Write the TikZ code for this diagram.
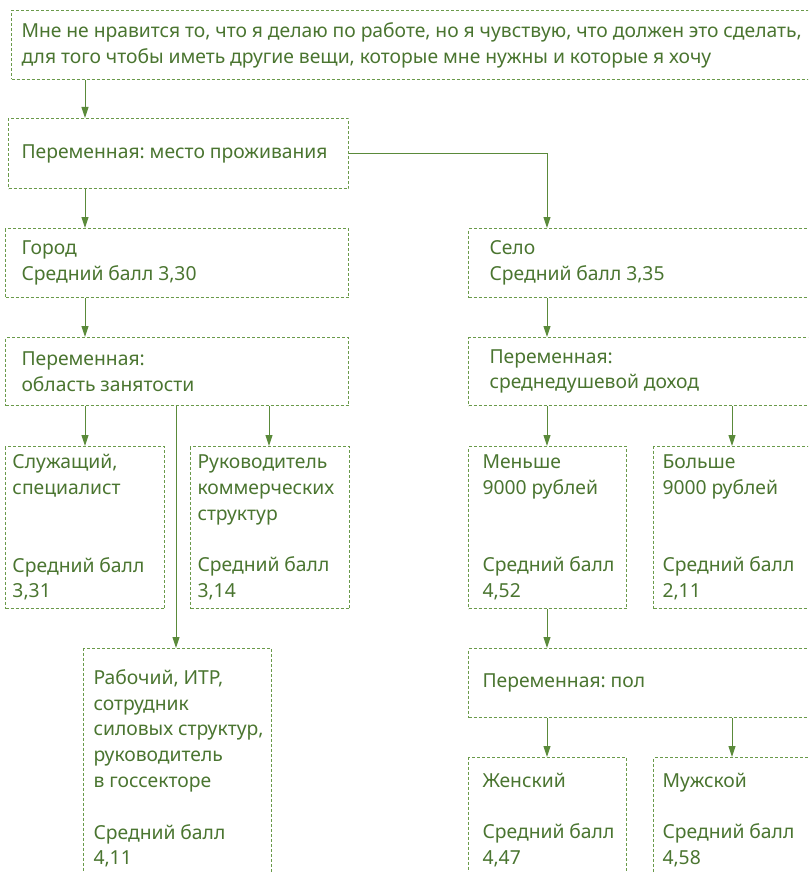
\documentclass[tikz,border=0pt]{standalone}
\usepackage{fontspec}
\setmainfont{Noto Sans}
\usetikzlibrary{arrows.meta}
\definecolor{gline}{HTML}{6A9A4A}
\definecolor{gtext}{HTML}{4A7530}
\definecolor{garr}{HTML}{5A8A3A}
\newcommand\ws{\nobreak\hskip4.9pt\relax}
\tikzset{
  box/.style={draw=gline, line width=1pt, dash pattern=on 3pt off 2pt, anchor=north west,
    align=left, inner ysep=0pt, text=gtext, font=\fontsize{19.3}{25.8}\selectfont},
  conn/.style={draw=garr, line width=1pt, -{Triangle[length=11pt,width=7pt]}}
}
\begin{document}
\begin{tikzpicture}[x=1pt,y=-1pt]
\useasboundingbox (0,0) rectangle (808,872);
\clip (0,0) rectangle (808,872);
\coordinate (cA) at (85,0);
\coordinate (cB) at (176,0);
\coordinate (cC) at (269,0);
\coordinate (cS) at (547,0);
\coordinate (cT) at (732,0);

\node[box, inner xsep=10pt, text width=784pt, minimum height=69pt] (top) at (11,10)
 {Мне\ws не\ws нравится\ws то,\ws что\ws я\ws делаю\ws по\ws работе,\ws но\ws я\ws чувствую,\ws что\ws должен\ws это\ws сделать,\\
  для\ws того\ws чтобы\ws иметь\ws другие\ws вещи,\ws которые\ws мне\ws нужны\ws и\ws которые\ws я\ws хочу};
\node[box, inner xsep=13pt, text width=314pt, minimum height=70pt] (place) at (8,118)
 {Переменная:\ws место\ws проживания};
\node[box, inner xsep=16pt, text width=311pt, minimum height=69pt] (gorod) at (5,228)
 {Город\\Средний\ws балл\ws 3,30};
\node[box, inner xsep=16pt, text width=311pt, minimum height=68pt] (oblast) at (5,337)
 {Переменная:\\область\ws занятости};
\node[box, inner xsep=21pt, text width=305pt, minimum height=69pt] (selo) at (468,228)
 {Село\\Средний\ws балл\ws 3,35};
\node[box, inner xsep=21pt, text width=305pt, minimum height=68pt] (dohod) at (468,337)
 {Переменная:\\среднедушевой\ws доход};
\node[box, inner xsep=7pt, text width=145pt, minimum height=162pt] (sluzh) at (5,446)
 {Служащий,\\специалист\\[51.6pt]Средний\ws балл\\3,31};
\node[box, inner xsep=7pt, text width=145pt, minimum height=162pt] (ruk) at (190,446)
 {Руководитель\\коммерческих\\структур\\[25.8pt]Средний\ws балл\\3,14};
\node[box, inner xsep=10pt, text width=168pt, minimum height=240pt] (rab) at (83,648)
 {Рабочий,\ws ИТР,\\сотрудник\\силовых\ws структур,\\руководитель\\в\ws госсекторе\\[25.8pt]Средний\ws балл\\4,11};
\node[box, inner xsep=14pt, text width=130pt, minimum height=162pt] (men) at (468,446)
 {Меньше\\9000\ws рублей\\[51.6pt]Средний\ws балл\\4,52};
\node[box, inner xsep=9pt, text width=144pt, minimum height=162pt] (bol) at (653,446)
 {Больше\\9000\ws рублей\\[51.6pt]Средний\ws балл\\2,11};
\node[box, inner xsep=14pt, text width=319pt, minimum height=69pt] (pol) at (468,648)
 {Переменная:\ws пол};
\node[box, inner xsep=14pt, text width=130pt, minimum height=125pt] (zhen) at (468,757)
 {Женский\\[25.8pt]Средний\ws балл\\4,47};
\node[box, inner xsep=9pt, text width=144pt, minimum height=125pt] (muzh) at (653,757)
 {Мужской\\[25.8pt]Средний\ws балл\\4,58};

\draw[conn] (top.south -| cA) -- (place.north -| cA);
\draw[conn] (place.south -| cA) -- (gorod.north -| cA);
\draw[conn] (place.east) -| (selo.north -| cS);
\draw[conn] (gorod.south -| cA) -- (oblast.north -| cA);
\draw[conn] (selo.south -| cS) -- (dohod.north -| cS);
\draw[conn] (oblast.south -| cA) -- (sluzh.north -| cA);
\draw[conn] (oblast.south -| cC) -- (ruk.north -| cC);
\draw[conn] (oblast.south -| cB) -- (rab.north -| cB);
\draw[conn] (dohod.south -| cS) -- (men.north -| cS);
\draw[conn] (dohod.south -| cT) -- (bol.north -| cT);
\draw[conn] (men.south -| cS) -- (pol.north -| cS);
\draw[conn] (pol.south -| cS) -- (zhen.north -| cS);
\draw[conn] (pol.south -| cT) -- (muzh.north -| cT);
\end{tikzpicture}
\end{document}
